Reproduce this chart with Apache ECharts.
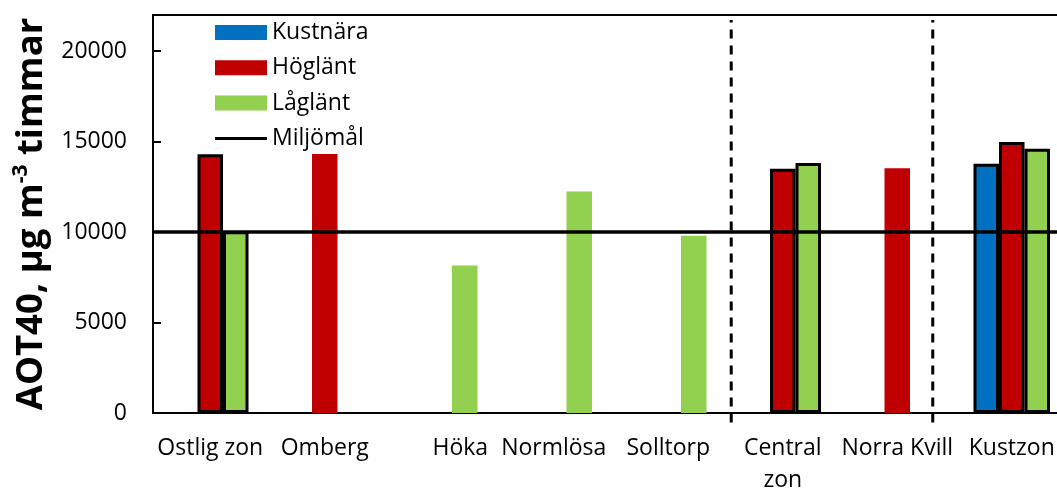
<!DOCTYPE html>
<html>
<head>
<meta charset="utf-8">
<script src="https://cdn.jsdelivr.net/npm/echarts@6/dist/echarts.min.js"></script>
<style>
  html, body { margin: 0; padding: 0; background: #fff; }
  #chart { width: 1057px; height: 490px; }
</style>
</head>
<body>
<div id="chart"></div>
<script>
// Sites and zone averages along the x axis
const categories = ['Ostlig zon', 'Omberg', 'Höka', 'Normlösa', 'Solltorp', 'Central\nzon', 'Norra Kvill', 'Kustzon'];
// Zone averages get an outlined bar
const zoneAverage = [true, false, false, false, false, true, false, true];

// AOT40 (µg m-3 timmar) per site type
const kustnara = [null, null, null, null, null, null, null, 13780];
const hoglant  = [14300, 14320, null, null, null, 13500, 13530, 14980];
const laglant  = [10040, null, 8150, 12240, 9800, 13820, null, 14610];

// Environmental objective
const miljomal = 10000;

// Y axis ticks
const yTicks = [0, 5000, 10000, 15000, 20000];
const yMax = 22000;

// Dashed separators between the zone groups (in category units along the axis)
const zoneDividers = [5.05, 6.81];

const FONT = 'Open Sans';
const FS = 23;

function barData(values) {
  return values.map((v, i) => {
    if (v === null) return null;
    return zoneAverage[i]
      ? { value: v, itemStyle: { borderColor: '#000', borderWidth: 3 } }
      : { value: v };
  });
}

const chart = echarts.init(document.getElementById('chart'), null, { renderer: 'canvas' });

const dividerSeries = zoneDividers.map((x, i) => ({
  name: 'divider' + i,
  type: 'line',
  xAxisIndex: 1,
  symbol: 'none',
  clip: false,
  silent: true,
  z: 6,
  lineStyle: { color: '#000', width: 3, type: [9, 7] },
  data: [[x, -520], [x, 21720]]
}));

chart.setOption({
  animation: false,
  textStyle: { fontFamily: FONT },
  grid: {
    left: 153, top: 15, right: -12, bottom: 77,
    outerBoundsMode: 'none',
    containLabel: false,
    show: true, borderColor: '#000', borderWidth: 2, backgroundColor: 'transparent'
  },
  legend: {
    orient: 'vertical',
    left: 210, top: 16,
    itemWidth: 52, itemHeight: 15, itemGap: 12.3,
    data: [
      { name: 'Kustnära', icon: 'rect' },
      { name: 'Höglänt', icon: 'rect' },
      { name: 'Låglänt', icon: 'rect' },
      { name: 'Miljömål', icon: 'path://M0,0 L52,0 L52,3 L0,3 Z' }
    ],
    textStyle: { fontFamily: FONT, fontSize: FS, color: '#000' }
  },
  xAxis: [
    {
      type: 'category',
      data: categories,
      axisLine: { lineStyle: { color: '#000', width: 2 } },
      axisTick: { show: false },
      axisLabel: {
        interval: 0,
        color: '#000',
        fontFamily: FONT,
        fontSize: FS,
        lineHeight: 32,
        margin: 19,
        formatter: v => v === 'Höka' ? '{shift|' + v + '}' : v,
        rich: { shift: { fontFamily: FONT, fontSize: FS, color: '#000', padding: [0, 0, 0, 42] } }
      }
    },
    { type: 'value', min: 0, max: 8, show: false }
  ],
  yAxis: {
    type: 'value',
    min: yTicks[0],
    max: yMax,
    interval: yTicks[1] - yTicks[0],
    splitLine: { show: false },
    axisLine: { show: true, lineStyle: { color: '#000', width: 2 } },
    axisTick: { show: true, inside: true, length: 8, lineStyle: { color: '#000', width: 2 } },
    axisLabel: {
      color: '#000', fontFamily: FONT, fontSize: FS, margin: 26, showMaxLabel: false,
      formatter: v => yTicks.includes(v) ? String(v) : ''
    },
    name: '{b|AOT40, µg m}{sup|-3}{b| timmar}',
    nameLocation: 'middle',
    nameRotate: 90,
    nameGap: 99,
    nameTextStyle: {
      rich: {
        b: { fontFamily: FONT, fontWeight: 'bold', fontSize: 36.5, color: '#000', lineHeight: 42 },
        sup: { fontFamily: FONT, fontWeight: 'bold', fontSize: 21, color: '#000', lineHeight: 42, verticalAlign: 'top', padding: [0, 0, 15, 0] }
      }
    }
  },
  series: [
    { name: 'Kustnära', type: 'bar', data: barData(kustnara), barWidth: 25.5, barGap: '0%', itemStyle: { color: '#0070C0' } },
    { name: 'Höglänt', type: 'bar', data: barData(hoglant), barWidth: 25.5, barGap: '0%', itemStyle: { color: '#C00000' } },
    { name: 'Låglänt', type: 'bar', data: barData(laglant), barWidth: 25.5, barGap: '0%', itemStyle: { color: '#92D050' } },
    {
      name: 'Miljömål',
      type: 'line',
      xAxisIndex: 1,
      symbol: 'none',
      z: 5,
      lineStyle: { color: '#000', width: 3.5 },
      itemStyle: { color: '#000' },
      data: [[0, miljomal], [8, miljomal]]
    },
    ...dividerSeries
  ]
});
</script>
</body>
</html>
